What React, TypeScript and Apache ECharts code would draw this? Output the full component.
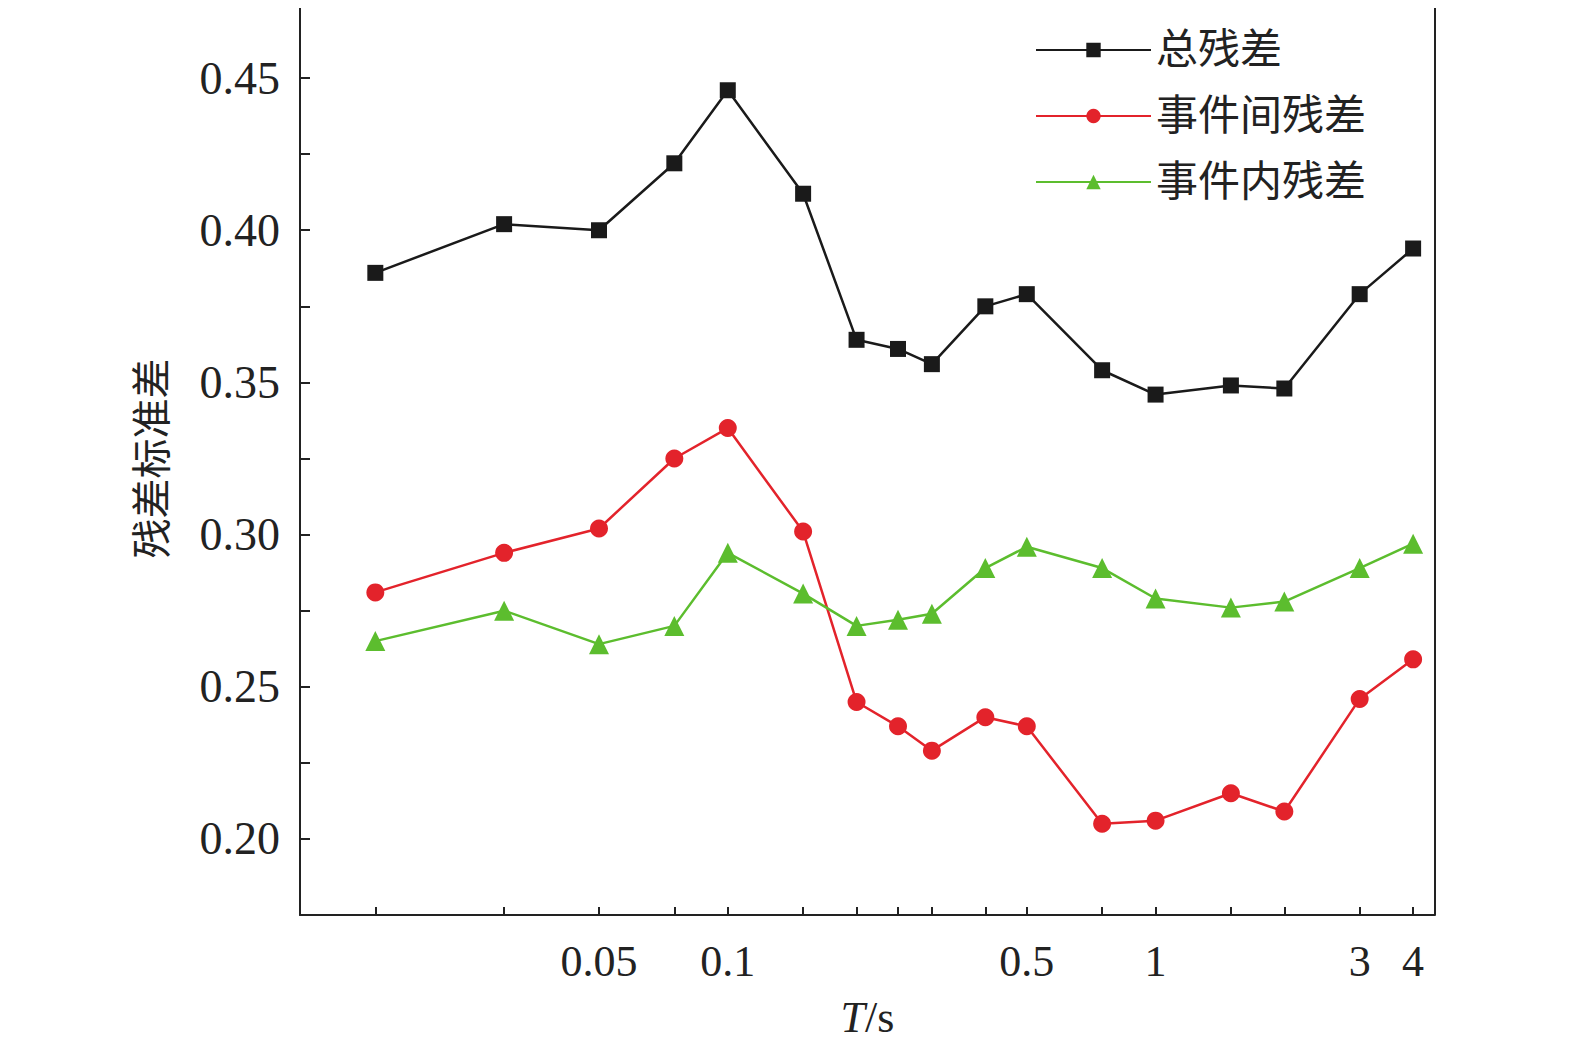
import React, { useEffect, useRef } from "react";
import * as echarts from "echarts";

const periods = [0.015, 0.03, 0.05, 0.075, 0.1, 0.15, 0.2, 0.25, 0.3, 0.4, 0.5, 0.75, 1, 1.5, 2, 3, 4];
const total = [0.386, 0.402, 0.4, 0.422, 0.446, 0.412, 0.364, 0.361, 0.356, 0.375, 0.379, 0.354, 0.346, 0.349, 0.348, 0.379, 0.394];
const between = [0.281, 0.294, 0.302, 0.325, 0.335, 0.301, 0.245, 0.237, 0.229, 0.24, 0.237, 0.205, 0.206, 0.215, 0.209, 0.246, 0.259];
const within = [0.265, 0.275, 0.264, 0.27, 0.294, 0.2806, 0.27, 0.272, 0.274, 0.289, 0.296, 0.289, 0.279, 0.276, 0.278, 0.289, 0.297];
const xLabels = [0.05, 0.1, 0.5, 1, 3, 4];
const yLabels = [0.2, 0.25, 0.3, 0.35, 0.4, 0.45];
const yTicks = [0.2, 0.225, 0.25, 0.275, 0.3, 0.325, 0.35, 0.375, 0.4, 0.425, 0.45];
const names = ["总残差", "事件间残差", "事件内残差"];

const FONT = "'Liberation Serif', 'Noto Sans CJK SC', serif";

export default function App() {
  const ref = useRef<HTMLDivElement>(null);
  useEffect(() => {
    const chart = echarts.init(ref.current!, null, { renderer: "svg" });
    const lg = (v: number) => Math.log10(v);
    const mk = (vals: number[]) => periods.map((p, i) => [lg(p), vals[i]]);
    const ser = (name: string, vals: number[], color: string, symbol: string, size: number) => ({
      name, type: "line", data: mk(vals), symbol, symbolSize: size,
      itemStyle: { color }, lineStyle: { color, width: 2.5 },
    });
    chart.setOption({
      animation: false,
      textStyle: { fontFamily: FONT },
      grid: { left: 300, right: 140, top: 2, bottom: 138 },
      legend: {
        left: 1030, top: 24, orient: "vertical", itemGap: 24, itemWidth: 115, itemHeight: 18,
        textStyle: { fontSize: 42, color: "#222", fontFamily: FONT },
        data: names,
      },
      xAxis: {
        type: "value", min: -2, max: lg(4.5),
        name: "{i|T}/s", nameLocation: "middle", nameGap: 80,
        nameTextStyle: { fontSize: 44, color: "#222", rich: { i: { fontStyle: "italic", fontSize: 44, fontFamily: FONT } } },
        splitLine: { show: false },
        axisLine: { onZero: false, lineStyle: { color: "#222", width: 2 } },
        axisTick: { inside: true, length: 8, customValues: periods.map(lg), lineStyle: { width: 2 } },
        axisLabel: {
          customValues: xLabels.map(lg), fontSize: 44, color: "#222", margin: 24,
          formatter: (v: number) => String(parseFloat(Math.pow(10, v).toPrecision(3))),
        },
      },
      yAxis: {
        type: "value", min: 0.175, max: 0.475,
        name: "残差标准差", nameLocation: "middle", nameGap: 128,
        nameTextStyle: { fontSize: 40, color: "#222" },
        splitLine: { show: false },
        axisLine: { onZero: false, lineStyle: { color: "#222", width: 2 } },
        axisTick: { inside: true, length: 10, customValues: yTicks, lineStyle: { width: 2 } },
        axisLabel: { customValues: yLabels, fontSize: 46, color: "#222", margin: 20, formatter: (v: number) => v.toFixed(2) },
      },
      series: [
        ser(names[0], total, "#1a1a1a", "rect", 16),
        ser(names[1], between, "#e3232b", "circle", 18),
        ser(names[2], within, "#5cbd2e", "triangle", 20),
        { type: "line", data: [[lg(4.5), 0.175], [lg(4.5), 0.475]], symbol: "none", silent: true,
          lineStyle: { color: "#222", width: 2 } },
        { type: "line", data: [[-2, 0.475], [lg(4.5), 0.475]], symbol: "none", silent: true,
          lineStyle: { color: "#222", width: 2 } },
      ],
    });
    return () => chart.dispose();
  }, []);
  return <div ref={ref} style={{ width: 1575, height: 1053, margin: -8 }} />;
}
